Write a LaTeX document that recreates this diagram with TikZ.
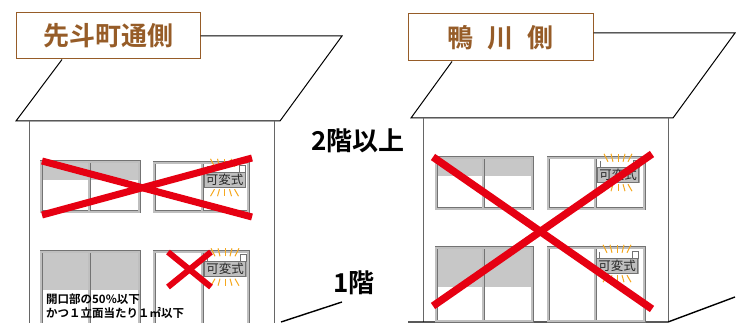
\documentclass[tikz,border=0pt]{standalone}
\usepackage{fontspec}
\setmainfont{Noto Sans CJK JP}[BoldFont={Noto Sans CJK JP Bold}]
\usetikzlibrary{shadows}

\definecolor{labelbrown}{RGB}{150,92,40}
\definecolor{crossred}{RGB}{230,0,18}
\definecolor{rayorange}{RGB}{245,168,30}

\tikzset{
  sidelabel/.style={draw=labelbrown, line width=1pt, fill=white, text=labelbrown,
    font=\bfseries\fontsize{26}{26}\selectfont, minimum width=184pt, minimum height=46pt, inner sep=0pt},
  floorlabel/.style={font=\bfseries\fontsize{26}{26}\selectfont, inner sep=0pt, anchor=west},
  roof/.style={line width=1pt, black},
  wall/.style={line width=1pt, black!60},
  ground/.style={line width=1.4pt, black},
  frame/.style={draw=black!55, double=black!25, line width=.6pt, double distance=1.8pt},
  blind/.style={fill=black!22},
  cross/.style={crossred, line width=7pt},
  kahen/.style={draw=black!55, fill=black!25, text=black!85, font=\fontsize{12.5}{12.5}\selectfont,
    inner sep=0pt, minimum width=41pt, minimum height=15pt,
    drop shadow={shadow xshift=1pt, shadow yshift=-1pt, fill=black!35, opacity=1}},
  ray/.style={rayorange, line width=1pt},
}

% sash window with two panes: x1, y1, x2, y2, mullion x, bottom of blind
\newcommand{\winpair}[6]{%
  \fill[blind] (#1,#2) rectangle (#3,#6);
  \draw[frame] (#1,#2) rectangle (#5,#4);
  \draw[frame] (#5,#2) rectangle (#3,#4);
}

% adjustable sign with its glow: name, x, y
\newcommand{\kahensign}[3]{%
  \node[kahen] (#1) at (#2,#3) {可変式};
  \draw[black!55, fill=white] ([xshift=-6pt]#1.north east) rectangle ([yshift=7pt]#1.north east);
  \draw[black!55] ([xshift=3pt]#1.north west) -- ++(0pt,6pt);
  \foreach \i in {-2,...,2} {
    \draw[ray] ([xshift=\i*5pt, yshift=5pt]#1.north) -- ([xshift=\i*7pt, yshift=13pt]#1.north);
    \draw[ray] ([xshift=\i*5pt, yshift=-2pt]#1.south) -- ([xshift=\i*7pt, yshift=-9pt]#1.south);
  }
}

\begin{document}
\begin{tikzpicture}[x=1pt, y=-1pt]
  \useasboundingbox (0,0) rectangle (742,323);

  \node[sidelabel] (pontocho) at (108,36) {先斗町通側};
  \node[sidelabel, minimum width=185pt, minimum height=47pt] (kamogawa) at (500.5,37.5)
    {鴨\hspace{.55em}川\hspace{.55em}側};

  \draw[roof] (pontocho.east) -- (342,36) -- (280,121) -- (16,121) -- (pontocho.south -| 62,0);
  \draw[roof] (kamogawa.east |- 0,33) -- (735,33) -- (673,118) -- (411,118) -- (kamogawa.south -| 452,0);

  \draw[wall] (29,121) -- (29,326);
  \draw[wall] (274,121) -- (274,326);
  \draw[wall] (423,118) -- (423,322);
  \draw[wall] (668,118) -- (668,322);
  \draw[ground] (281,322) -- (342,302);
  \draw[ground] (408,322) -- (668,322) -- (735,297);

  \winpair{41}{162}{139}{212}{89}{180}
  \winpair{154}{163}{248}{212}{202}{163}
  \winpair{41}{252}{139}{330}{89}{290}
  \winpair{154}{252}{248}{330}{202}{252}
  \winpair{436}{158}{532}{209}{483}{176}
  \winpair{548}{158}{644}{209}{595}{158}
  \winpair{436}{248}{532}{321}{483}{287}
  \winpair{548}{248}{644}{321}{595}{248}

  \kahensign{signA}{224.5}{179.5}
  \kahensign{signB}{225}{269}
  \kahensign{signC}{618}{174.5}
  \kahensign{signD}{617}{265.5}

  \node[floorlabel] (upper) at (311,141) {2階以上};
  \node[floorlabel] (first) at (333,283) {1階};
  \node[anchor=north west, align=left, inner sep=0pt,
    font=\bfseries\fontsize{11.5}{13.5}\selectfont] (note) at (46,294)
    {開口部の50\%以下\\かつ１立面当たり１㎡以下};

  \draw[cross] (42,161) -- (252,217);
  \draw[cross] (42,215) -- (252,158);
  \draw[cross, line width=6pt] (168,252) -- (211,287);
  \draw[cross, line width=6pt] (168,287) -- (211,252);
  \draw[cross, line width=7.5pt] (433,157) -- (652,309);
  \draw[cross, line width=7.5pt] (433,306) -- (652,154);
\end{tikzpicture}
\end{document}
